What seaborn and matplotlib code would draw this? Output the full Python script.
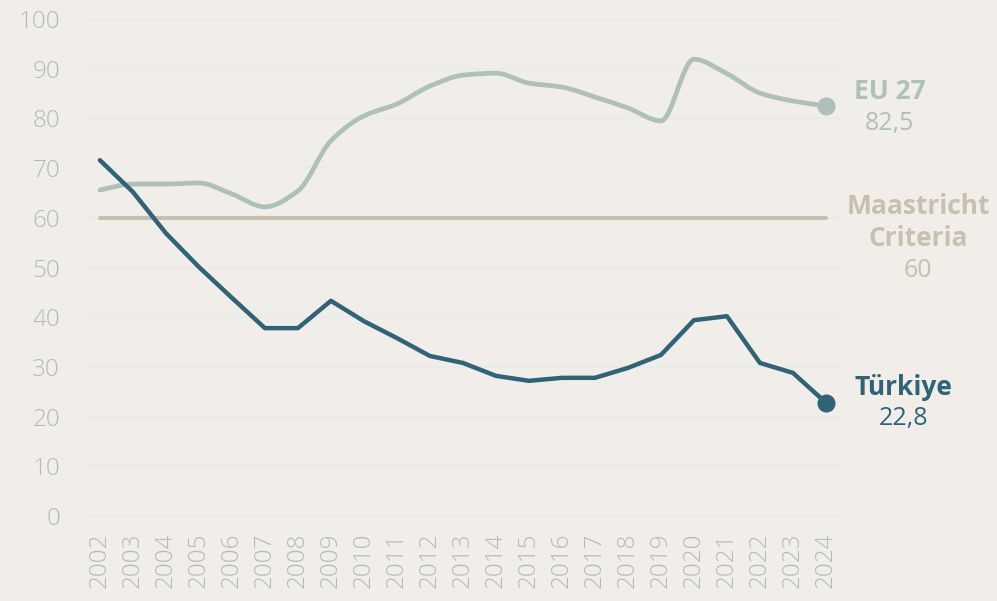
import matplotlib
matplotlib.use("Agg")
import matplotlib.pyplot as plt
import numpy as np
import pandas as pd
import seaborn as sns
from matplotlib.path import Path
from matplotlib.patches import PathPatch

years = list(range(2002, 2025))
turkiye = [71.6, 65.2, 56.9, 50.1, 43.9, 37.8, 37.8, 43.3, 39.2, 35.8, 32.2, 30.8,
           28.2, 27.2, 27.8, 27.8, 29.8, 32.4, 39.4, 40.2, 30.8, 28.8, 22.8]
eu27 = [65.6, 66.8, 66.8, 67.0, 64.8, 62.2, 65.4, 75.5, 80.5, 82.9, 86.5, 88.7,
        89.1, 87.1, 86.3, 84.3, 82.1, 79.5, 91.9, 89.0, 85.1, 83.5, 82.5]
maastricht = [60] * len(years)

bg = "#f1eeea"
c_tr = "#2f6476"
c_eu = "#aebfbc"
c_ma = "#c8bfae"
c_tick = "#b2bbbb"

sns.set_style("white")
plt.rcParams["font.family"] = ["Open Sans", "DejaVu Sans"]

df = pd.DataFrame({"year": years, "Türkiye": turkiye, "EU 27": eu27, "Maastricht": maastricht})
df["pos"] = np.arange(len(years))

fig = plt.figure(figsize=(9.97, 6.01), dpi=100, facecolor=bg)
ax = fig.add_axes([0.0853, 0.1414, 0.759, 0.8270])
ax.set_facecolor(bg)

# faint grid
for v in range(0, 101, 10):
    ax.axhline(v, color="#e8eaea", lw=1.2, zorder=0)

sns.lineplot(data=df, x="pos", y="Maastricht", color=c_ma, lw=3, ax=ax, zorder=2)

# EU 27 drawn as monotone cubic curve
x = df["pos"].to_numpy(float)
y = np.array(eu27, float)
d = np.diff(y) / np.diff(x)
m = np.zeros_like(y)
m[0], m[-1] = d[0], d[-1]
for i in range(1, len(y) - 1):
    if d[i - 1] * d[i] <= 0:
        m[i] = 0
    else:
        m[i] = 2 / (1 / d[i - 1] + 1 / d[i])
verts = [(x[0], y[0])]
codes = [Path.MOVETO]
for i in range(len(x) - 1):
    h = x[i + 1] - x[i]
    verts += [(x[i] + h / 3, y[i] + m[i] * h / 3),
              (x[i + 1] - h / 3, y[i + 1] - m[i + 1] * h / 3),
              (x[i + 1], y[i + 1])]
    codes += [Path.CURVE4] * 3
ax.add_patch(PathPatch(Path(verts, codes), fc="none", ec=c_eu, lw=3.4,
                       capstyle="round", joinstyle="round", zorder=3))
ax.plot(x[-1], y[-1], "o", color=c_eu, ms=12, zorder=4)

sns.lineplot(data=df, x="pos", y="Türkiye", color=c_tr, lw=3.2, ax=ax, zorder=5)
ax.lines[-1].set_solid_joinstyle("round")
ax.lines[-1].set_solid_capstyle("round")
ax.plot(x[-1], turkiye[-1], "o", color=c_tr, ms=12, zorder=6)

ax.set_xlim(-0.45, 22.48)
ax.set_ylim(0, 100)
ax.set_xticks(df["pos"])
ax.set_xticklabels([str(v) for v in years], rotation=90, color=c_tick, fontsize=17.5, fontweight="light")
ax.set_yticks(range(0, 101, 10))
ax.set_yticklabels([str(v) for v in range(0, 101, 10)], color=c_tick, fontsize=17.5, fontweight="light")
ax.tick_params(length=0, pad=18, axis="y")
ax.tick_params(length=0, pad=12, axis="x")
ax.set_xlabel("")
ax.set_ylabel("")
for s in ax.spines.values():
    s.set_visible(False)

# end labels
ax.text(23.93, 85.5, "EU 27", color=c_eu, fontsize=19, fontweight="bold", ha="center", va="center", clip_on=False)
ax.text(23.93, 79.0, "82,5", color=c_eu, fontsize=18, ha="center", va="center", clip_on=False)
ax.text(24.8, 62.3, "Maastricht", color=c_ma, fontsize=19, fontweight="bold", ha="center", va="center", clip_on=False)
ax.text(24.8, 55.8, "Criteria", color=c_ma, fontsize=19, fontweight="bold", ha="center", va="center", clip_on=False)
ax.text(24.8, 49.3, "60", color=c_ma, fontsize=18, ha="center", va="center", clip_on=False)
ax.text(24.35, 25.8, "Türkiye", color=c_tr, fontsize=19, fontweight="bold", ha="center", va="center", clip_on=False)
ax.text(24.35, 19.6, "22,8", color=c_tr, fontsize=18, ha="center", va="center", clip_on=False)

fig.savefig("out.png", dpi=100, facecolor=bg)
